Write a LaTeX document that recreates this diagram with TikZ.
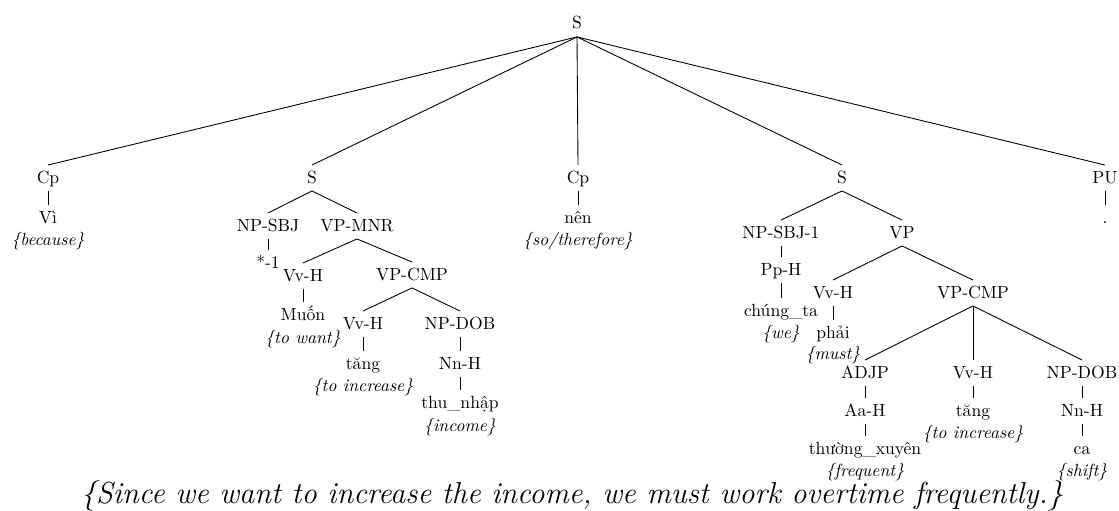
\documentclass[tikz,border=0pt]{standalone}
\begin{document}
\begin{tikzpicture}[x=0.568pt,y=-0.568pt,
  tn/.style={anchor=base,inner xsep=0pt,inner ysep=3pt,outer sep=0pt,text height=7.2pt,text depth=1.5pt},
  gl/.style={anchor=base,inner sep=0pt,font=\itshape},
  transl/.style={anchor=base,inner sep=0pt,font=\LARGE\itshape},
  br/.style={draw,line width=0.5pt}]
\useasboundingbox (0,0) rectangle (1119,511);

% root and first level
\node[tn] (r) at (577,29) {S};
\node[tn] (c1) at (48,183) {Cp};
\node[tn] (s2) at (312,183) {S};
\node[tn] (c2) at (578,183) {Cp};
\node[tn] (s4) at (842,183) {S};
\node[tn] (pu) at (1105,183) {PU};

% first clause marker
\node[tn] (w1) at (48,223) {Vì};
\node[gl] (g1) at (48,245) {\{because\}};

% first clause
\node[tn] (np1) at (268,231) {NP-SBJ};
\node[tn] (t1) at (268,268) {*-1};
\node[tn] (vpm) at (357,231) {VP-MNR};
\node[tn] (vh1) at (303,281) {Vv-H};
\node[tn] (w2) at (303,320) {Muốn};
\node[gl] (g2) at (303,343) {\{to want\}};
\node[tn] (vpc1) at (412,280) {VP-CMP};
\node[tn] (vh2) at (363,329) {Vv-H};
\node[tn] (w3) at (363,369) {tăng};
\node[gl] (g3) at (363,391) {\{to increase\}};
\node[tn] (npd1) at (460,329) {NP-DOB};
\node[tn] (nn1) at (460,369) {Nn-H};
\node[tn] (w4) at (460,408) {thu\_nhập};
\node[gl] (g4) at (460,431) {\{income\}};

% second clause marker
\node[tn] (w5) at (578,223) {nên};
\node[gl] (g5) at (578,245) {\{so/therefore\}};

% second clause
\node[tn] (np2) at (781,238) {NP-SBJ-1};
\node[tn] (pp) at (781,275) {Pp-H};
\node[tn] (w6) at (781,316) {chúng\_ta};
\node[gl] (g6) at (781,338) {\{we\}};
\node[tn] (vp) at (902,238) {VP};
\node[tn] (vh3) at (833,298) {Vv-H};
\node[tn] (w7) at (833,338) {phải};
\node[gl] (g7) at (833,359) {\{must\}};
\node[tn] (vpc2) at (973,298) {VP-CMP};
\node[tn] (adj) at (865,378) {ADJP};
\node[tn] (aa) at (865,416) {Aa-H};
\node[tn] (w8) at (865,454) {thường\_xuyên};
\node[gl] (g8) at (865,476) {\{frequent\}};
\node[tn] (vh4) at (973,378) {Vv-H};
\node[tn] (w9) at (973,416) {tăng};
\node[gl] (g9) at (973,438) {\{to increase\}};
\node[tn] (npd2) at (1082,378) {NP-DOB};
\node[tn] (nn2) at (1082,416) {Nn-H};
\node[tn] (w10) at (1082,454) {ca};
\node[gl] (g10) at (1082,476) {\{shift\}};

% punctuation
\node[tn] (w11) at (1105,223) {.};

% translation
\node[transl] (tr) at (572,503) {\{Since we want to increase the income, we must work overtime frequently.\}};

% branches
\foreach \p/\c in {r/c1,r/s2,r/c2,r/s4,r/pu,
  c1/w1,
  s2/np1,s2/vpm,np1/t1,vpm/vh1,vpm/vpc1,vh1/w2,
  vpc1/vh2,vpc1/npd1,vh2/w3,npd1/nn1,nn1/w4,
  c2/w5,
  s4/np2,s4/vp,np2/pp,pp/w6,vp/vh3,vp/vpc2,vh3/w7,
  vpc2/adj,vpc2/vh4,vpc2/npd2,adj/aa,aa/w8,vh4/w9,npd2/nn2,nn2/w10,
  pu/w11}
  \draw[br] (\p.south) -- (\c.north);
\end{tikzpicture}
\end{document}
